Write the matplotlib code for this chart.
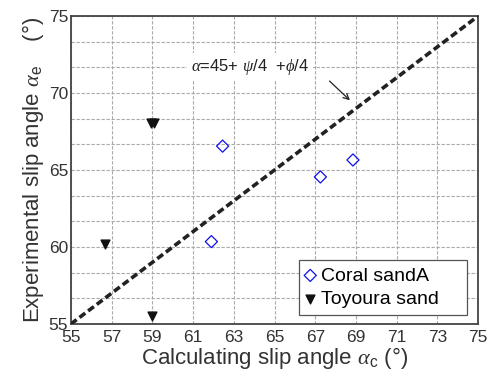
import numpy as np
import matplotlib
matplotlib.use("Agg")
import matplotlib.pyplot as plt

plt.rcParams['font.family'] = ['Liberation Sans', 'DejaVu Sans']
plt.rcParams['mathtext.fontset'] = 'custom'
plt.rcParams['mathtext.it'] = 'Liberation Serif:italic'
plt.rcParams['mathtext.rm'] = 'Liberation Sans'

# data
coral_x = [61.9, 62.45, 67.25, 68.85]
coral_y = [60.35, 66.55, 64.55, 65.65]
toyoura_x = [58.92, 59.08, 56.67, 59.0]
toyoura_y = [68.05, 68.05, 60.2, 55.5]
line_x = [55, 75]
line_y = [55, 75]
xticks = np.arange(55, 76, 2)
yticks = [55, 60, 65, 70, 75]

fig = plt.figure(figsize=(4.92, 3.72), dpi=100)
ax = fig.add_axes([0.144, 0.129, 0.828, 0.828])

ax.plot(line_x, line_y, color='#222222', lw=2.6, ls=(0, (2.0, 1.0)), zorder=3)
h1 = ax.scatter(coral_x, coral_y, marker='D', s=38, facecolors='none',
                edgecolors='#1010ee', linewidths=0.9, zorder=4)
h2 = ax.scatter(toyoura_x, toyoura_y, marker='v', s=40, color='#111111',
                zorder=4)

ax.set_xlim(55, 75)
ax.set_ylim(55, 75)
ax.set_xticks(xticks)
ax.set_yticks(yticks)
ax.set_yticks(np.arange(55, 75.1, 5 / 3), minor=True)
ax.grid(True, which='both', color='#aaaaaa', ls=(0, (3, 1.5)), lw=0.8)
ax.tick_params(which='both', direction='in', length=0, labelsize=12.5,
               labelcolor='#333333', pad=2)
ax.tick_params(axis='x', pad=4)
for s in ax.spines.values():
    s.set_color('#444444')
    s.set_linewidth(1.3)

ax.set_xlabel(r'Calculating slip angle $\alpha$$_{\rm c}$ (°)', fontsize=16,
              labelpad=0, color='#333333')
ax.set_ylabel(r'Experimental slip angle $\alpha$$_{\rm e}$    (°)', fontsize=16,
              labelpad=2, color='#333333')

ax.text(63.8, 75 - 2 * 5 / 3, r'$\alpha$=45+ $\psi$/4  +$\phi$/4', fontsize=12,
        ha='center', va='center', color='#222222',
        bbox=dict(facecolor='white', edgecolor='none', pad=3), zorder=5)
ax.annotate('', xy=(68.8, 69.4), xytext=(67.6, 70.9),
            arrowprops=dict(arrowstyle='->', color='#222222', lw=0.9), zorder=5)

leg = ax.legend([h1, h2], ['Coral sandA', 'Toyoura sand    '], loc='lower left',
                bbox_to_anchor=(0.559, 0.03),
                fontsize=14, frameon=True, fancybox=False, handlelength=0.5,
                handletextpad=0.3, borderpad=0.35, labelspacing=0.3,
                borderaxespad=0, framealpha=1)
leg.get_frame().set_edgecolor('#555555')
leg.get_frame().set_linewidth(0.9)

fig.savefig('out.png', dpi=100)
